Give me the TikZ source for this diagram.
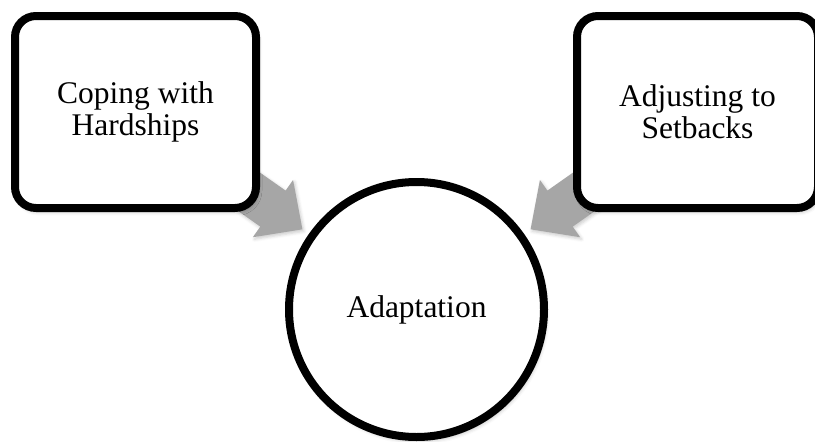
\documentclass[tikz,border=0pt]{standalone}
\usepackage{fontspec}
\setmainfont{Liberation Serif}
\usetikzlibrary{shadows.blur}
\definecolor{flowgray}{HTML}{A6A6A6}
\tikzset{
  softshadow/.style={blur shadow={shadow xshift=2pt, shadow yshift=-3.5pt,
      shadow blur radius=4pt, shadow opacity=30}},
  card/.style={draw=black, line width=8pt, fill=white, rounded corners=21pt,
      minimum width=241pt, minimum height=192pt, align=center,
      font=\fontsize{31.5}{32}\selectfont, softshadow},
  hub/.style={draw=black, line width=8pt, fill=white, circle,
      minimum size=255pt, inner sep=0pt,
      font=\fontsize{31.5}{32}\selectfont, softshadow},
  flow/.style={fill=flowgray, blur shadow={shadow xshift=1.5pt, shadow yshift=-2pt,
      shadow blur radius=3pt, shadow opacity=20}},
}
\begin{document}
\begin{tikzpicture}[x=1pt, y=1pt]
  \useasboundingbox (0,0) rectangle (815,-442);
  \clip (0,0) rectangle (815,-442);

  % node centres
  \coordinate (lc) at (135.5,-112);
  \coordinate (rc) at (697.5,-112);
  \coordinate (cc) at (416.5,-309.5);

  % block arrows running from each card toward the hub
  \fill[flow, shift={(lc)}, rotate=-35.1]
    (0,22) -- (168,22) -- (168,35) -- (204,0) -- (168,-35) -- (168,-22) -- (0,-22) -- cycle;
  \fill[flow, shift={(rc)}, rotate=215.1]
    (0,22) -- (168,22) -- (168,35) -- (204,0) -- (168,-35) -- (168,-22) -- (0,-22) -- cycle;

  \node[card] (left) at (lc) {Coping with\\Hardships};
  \node[card] (right) at (rc) {Adjusting to\\Setbacks};
  \node[hub] (center) at (cc) {Adaptation};
\end{tikzpicture}
\end{document}
